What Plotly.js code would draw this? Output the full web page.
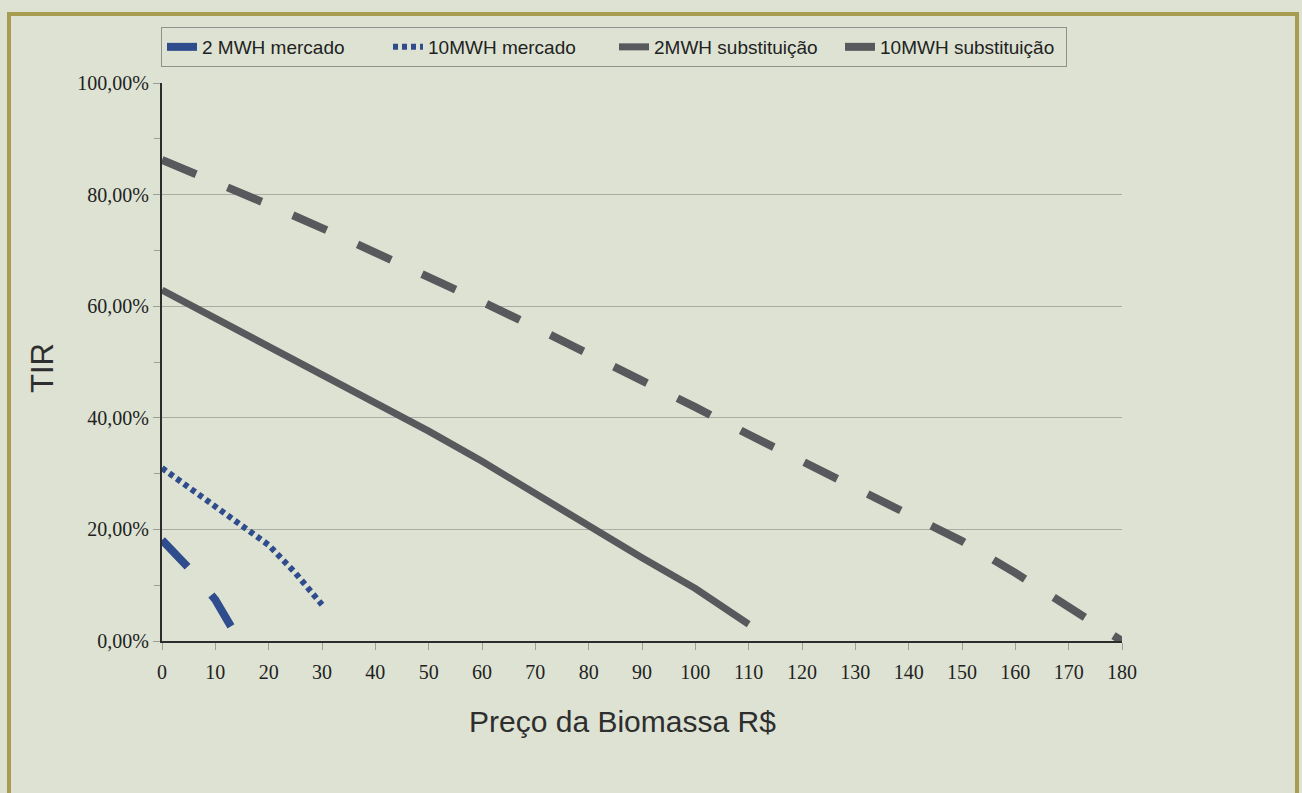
<!DOCTYPE html>
<html>
<head>
<meta charset="utf-8">
<script src="https://cdn.plot.ly/plotly-3.0.1.min.js"></script>
<style>
  html, body { margin: 0; padding: 0; background: #dde2d3; }
  #chart { width: 1302px; height: 793px; }
</style>
</head>
<body>
<div id="chart"></div>
<script>
// ---- data ----
const seriesNames = ["2 MWH mercado", "10MWH mercado", "2MWH substituição", "10MWH substituição"];

const preco2Mercado = [0, 5, 10, 13];
const tir2Mercado = [18.1, 13.1, 7.4, 2.5];

const preco10Mercado = [0, 5, 10, 15, 20, 25, 30];
const tir10Mercado = [31.0, 27.5, 24.1, 20.8, 17.2, 12.2, 6.5];

const preco2Subst = [0, 10, 20, 30, 40, 50, 60, 70, 80, 90, 100, 110];
const tir2Subst = [62.9, 57.9, 52.9, 47.9, 42.7, 37.6, 32.2, 26.4, 20.5, 14.9, 9.4, 3.0];

const preco10Subst = [0, 10, 20, 30, 40, 50, 60, 70, 80, 90, 100, 110, 120, 130, 140, 150, 160, 170, 180];
const tir10Subst = [86.2, 82.3, 78.2, 74.0, 69.7, 65.3, 60.8, 56.2, 51.5, 46.7, 41.9, 37.0, 32.2, 27.8, 23.0, 17.9, 12.2, 6.2, 0];

const xTickVals = [0, 10, 20, 30, 40, 50, 60, 70, 80, 90, 100, 110, 120, 130, 140, 150, 160, 170, 180];
const yTickVals = [0, 20, 40, 60, 80, 100];
const yTickText = ["0,00%", "20,00%", "40,00%", "60,00%", "80,00%", "100,00%"];
const yMinorVals = [10, 30, 50, 70, 90];

// ---- styling ----
const paperColor = "#dde2d3";
const blue = "#2f4c8c";
const gray = "#58595c";

// plot area in pixels: x 162..1122, y 83..641
const L = 162, R = 1122, T = 83, B = 641;
const px2x = p => (p - L) / (R - L);
const px2y = p => (B - p) / (B - T);

const traces = [
  { x: preco2Mercado, y: tir2Mercado, name: seriesNames[0], mode: "lines",
    line: { color: blue, width: 8, dash: "37px,37px" } },
  { x: preco10Mercado, y: tir10Mercado, name: seriesNames[1], mode: "lines",
    line: { color: blue, width: 6, dash: "5px,4px" } },
  { x: preco2Subst, y: tir2Subst, name: seriesNames[2], mode: "lines",
    line: { color: gray, width: 7 } },
  { x: preco10Subst, y: tir10Subst, name: seriesNames[3], mode: "lines",
    line: { color: gray, width: 8, dash: "37px,34px" } }
];

const serif = "Liberation Serif, Times New Roman, serif";
const sans = "Liberation Sans, Arial, sans-serif";

const layout = {
  width: 1302, height: 793,
  paper_bgcolor: paperColor,
  plot_bgcolor: paperColor,
  margin: { l: L, r: 1302 - R, t: T, b: 793 - B },
  showlegend: true,
  legend: {
    orientation: "h",
    x: px2x(161), y: px2y(27), xanchor: "left", yanchor: "top",
    bgcolor: paperColor, bordercolor: "#8d928a", borderwidth: 1,
    font: { family: sans, size: 19, color: "#222" },
    entrywidth: 181, entrywidthmode: "pixels",
    itemwidth: 30,
    tracegroupgap: 0
  },
  xaxis: {
    range: [0, 180], tickmode: "array", tickvals: xTickVals,
    ticks: "outside", ticklen: 7, tickcolor: "#9a9f97", tickwidth: 1,
    ticklabelstandoff: 5,
    showline: true, linecolor: "#2c2c2c", linewidth: 2,
    showgrid: false, zeroline: false,
    tickfont: { family: serif, size: 20, color: "#222" },
    fixedrange: true
  },
  yaxis: {
    range: [0, 100], tickmode: "array", tickvals: yTickVals, ticktext: yTickText,
    ticks: "outside", ticklen: 7, tickcolor: "#9a9f97", tickwidth: 1,
    minor: { tickvals: yMinorVals, ticks: "outside", ticklen: 6, tickcolor: "#9a9f97", showgrid: false },
    showline: true, linecolor: "#2c2c2c", linewidth: 2,
    showgrid: true, gridcolor: "#a6ada2", gridwidth: 1,
    zeroline: false,
    tickfont: { family: serif, size: 20, color: "#222" },
    fixedrange: true
  },
  annotations: [
    { text: "Preço da Biomassa R$", xref: "paper", yref: "paper",
      x: px2x(622), y: px2y(721), xanchor: "center", yanchor: "middle",
      showarrow: false, font: { family: sans, size: 30, color: "#2e2e2e" } },
    { text: "TIR", xref: "paper", yref: "paper", textangle: -90,
      x: px2x(42), y: px2y(368), xanchor: "center", yanchor: "middle",
      showarrow: false, font: { family: sans, size: 31, color: "#2e2e2e" } }
  ],
  shapes: [
    { type: "rect", xref: "paper", yref: "paper",
      x0: px2x(9), x1: px2x(1297), y0: px2y(14), y1: px2y(820),
      line: { color: "#a89c50", width: 4 }, fillcolor: "rgba(0,0,0,0)", layer: "below" }
  ]
};

Plotly.newPlot("chart", traces, layout, { displayModeBar: false, staticPlot: true });
</script>
</body>
</html>
